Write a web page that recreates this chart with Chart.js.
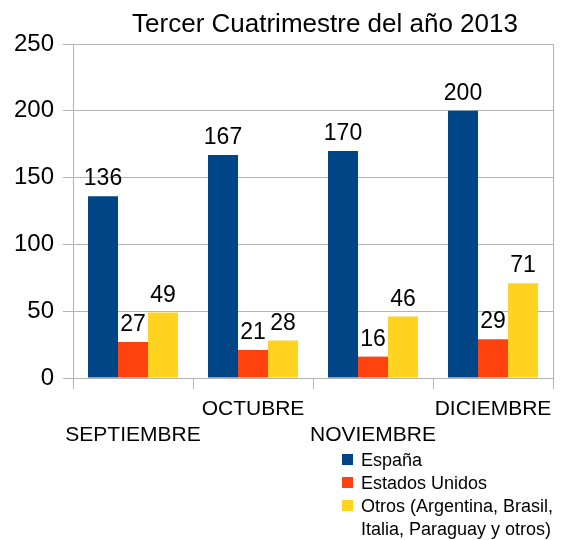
<!DOCTYPE html>
<html>
<head>
<meta charset="utf-8">
<script src="https://cdn.jsdelivr.net/npm/chart.js@4"></script>
<style>
  body { margin: 0; background: #fff; }
  #wrap { width: 561px; height: 540px; }
</style>
</head>
<body>
<div id="wrap"><canvas id="myChart" width="561" height="540"></canvas></div>
<script>
const titleText = 'Tercer Cuatrimestre del año 2013';
const months = ['SEPTIEMBRE', 'OCTUBRE', 'NOVIEMBRE', 'DICIEMBRE'];
const seriesNames = ['España', 'Estados Unidos', 'Otros (Argentina, Brasil, Italia, Paraguay y otros)'];
const espana = [136, 167, 170, 200];
const estadosUnidos = [27, 21, 16, 29];
const otros = [49, 28, 46, 71];
const colors = ['#004586', '#ff420e', '#ffd320'];
const yTicks = [0, 50, 100, 150, 200, 250];

const FONT = '"Liberation Sans", Arial, sans-serif';
const GRID = '#b3b3b3';

// numbers above the bars
const valueLabels = {
    id: 'valueLabels',
    afterDatasetsDraw(chart) {
        const ctx = chart.ctx;
        ctx.save();
        ctx.font = '23px ' + FONT;
        ctx.fillStyle = '#000';
        ctx.textAlign = 'center';
        ctx.textBaseline = 'alphabetic';
        chart.data.datasets.forEach((ds, i) => {
            chart.getDatasetMeta(i).data.forEach((bar, j) => {
                ctx.fillText(ds.data[j], bar.x, bar.y - 11);
            });
        });
        ctx.restore();
    }
};

// title + legend drawn by hand (legend wraps its long label)
const titleAndLegend = {
    id: 'titleAndLegend',
    afterDraw(chart) {
        const ctx = chart.ctx;
        ctx.save();
        ctx.fillStyle = '#000';
        ctx.font = '26px ' + FONT;
        ctx.textAlign = 'center';
        ctx.textBaseline = 'alphabetic';
        ctx.fillText(titleText, 325, 32);

        ctx.font = '18px ' + FONT;
        ctx.textAlign = 'left';
        let y = 466;
        const maxW = 561 - 361;
        chart.data.datasets.forEach(ds => {
            ctx.fillStyle = ds.backgroundColor;
            ctx.fillRect(342, y - 12, 11, 11);
            ctx.fillStyle = '#000';
            // simple word wrap
            const words = ds.label.split(' ');
            let line = '';
            const lines = [];
            words.forEach(w => {
                const test = line ? line + ' ' + w : w;
                if (ctx.measureText(test).width > maxW && line) {
                    lines.push(line);
                    line = w;
                } else {
                    line = test;
                }
            });
            lines.push(line);
            lines.forEach(l => {
                ctx.fillText(l, 361, y);
                y += 23;
            });
        });
        ctx.restore();
    }
};

const ctx = document.getElementById('myChart').getContext('2d');
const chart = new Chart(ctx, {
    type: 'bar',
    data: {
        labels: months,
        datasets: [
            { label: seriesNames[0], data: espana, backgroundColor: colors[0] },
            { label: seriesNames[1], data: estadosUnidos, backgroundColor: colors[1] },
            { label: seriesNames[2], data: otros, backgroundColor: colors[2] }
        ]
    },
    options: {
        responsive: false,
        animation: false,
        datasets: {
            bar: { categoryPercentage: 0.75, barPercentage: 1.0 }
        },
        layout: {
            padding: { left: 0, right: 8, top: 44, bottom: 92 }
        },
        plugins: {
            legend: { display: false },
            title: { display: false },
            tooltip: { enabled: false }
        },
        scales: {
            x: {
                grid: {
                    offset: true,
                    color: c => (c.type === 'scale' || c.index === 0) ? GRID : 'rgba(0,0,0,0)',
                    tickColor: GRID,
                    tickLength: 11
                },
                border: { color: GRID },
                ticks: {
                    font: { family: FONT, size: 21, lineHeight: 1.25 },
                    color: '#000',
                    padding: 7,
                    maxRotation: 0,
                    autoSkip: false,
                    // stagger labels like the original
                    callback: function (v, i) {
                        const t = this.getLabelForValue(v);
                        return i % 2 === 0 ? ['', t] : [t];
                    }
                },
                afterFit: s => { s.height = 70; }
            },
            y: {
                min: 0,
                max: 250,
                afterBuildTicks: s => { s.ticks = yTicks.map(v => ({ value: v })); },
                grid: { color: GRID, tickColor: GRID, tickLength: 10 },
                border: { color: GRID },
                ticks: {
                    font: { family: FONT, size: 24 },
                    color: '#000',
                    padding: 9
                },
                afterFit: s => { s.width = 73; }
            }
        }
    },
    plugins: [valueLabels, titleAndLegend]
});
</script>
</body>
</html>
